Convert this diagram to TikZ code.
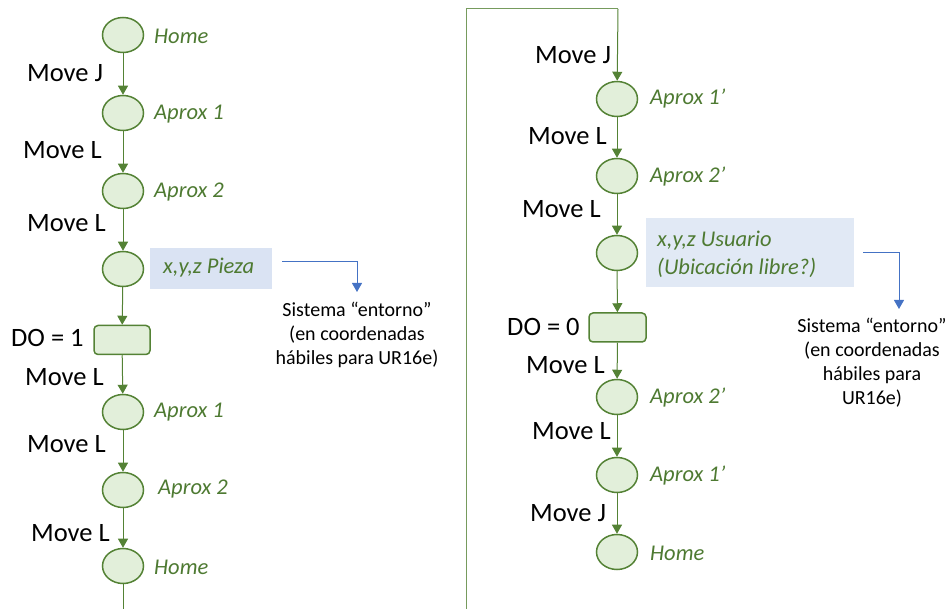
\documentclass[tikz,border=0pt]{standalone}
\usepackage{fontspec}
\setmainfont{Carlito}
\usetikzlibrary{arrows.meta,shapes.geometric}
\definecolor{grline}{HTML}{548235}
\definecolor{grfill}{HTML}{E2EFDA}
\definecolor{grtext}{HTML}{4E7A32}
\definecolor{bluebox}{HTML}{DAE3F3}
\definecolor{blueline}{HTML}{4472C4}
\tikzset{
  pt/.style={ellipse, draw=grline, fill=grfill, line width=1.5pt,
    minimum width=41pt, minimum height=35pt, inner sep=0pt},
  dobox/.style={rectangle, rounded corners=4pt, draw=grline, fill=grfill,
    line width=1.5pt, minimum width=56pt, minimum height=29pt, inner sep=0pt},
  flow/.style={draw=grline, line width=1pt, -{Triangle[length=9pt,width=10pt]}},
  loopline/.style={draw=grline!80, line width=1pt},
  cmd/.style={font=\fontsize{26.5}{30}\selectfont, text=black, inner sep=0pt, anchor=west},
  tag/.style={font=\fontsize{22.5}{26}\selectfont\itshape, text=grtext, inner sep=0pt, anchor=west},
  coordbox/.style={fill=bluebox, inner sep=0pt},
  note/.style={font=\fontsize{20}{24}\selectfont, text=black, align=center, inner sep=0pt},
  sysarrow/.style={draw=blueline, line width=1pt, -{Triangle[length=9pt,width=10pt]}}
}
\begin{document}
\begin{tikzpicture}[x=1pt,y=-1pt]
\useasboundingbox (0,0) rectangle (946,609);

% ---------- first sequence ----------
\node[pt] (h1) at (123,35) {};
\node[pt] (a1) at (123,113) {};
\node[pt] (a2) at (123,191) {};
\node[pt] (pz) at (123,269) {};
\node[dobox] (do1) at (122,340) {};
\node[pt] (b1) at (123,412) {};
\node[pt] (b2) at (123,490) {};
\node[pt] (h2) at (123,566) {};
\coordinate (lend) at (123,609);

\draw[flow] (h1) -- (a1);
\draw[flow] (a1) -- (a2);
\draw[flow] (a2) -- (pz);
\draw[flow] (pz) -- (do1);
\draw[flow] (do1) -- (b1);
\draw[flow] (b1) -- (b2);
\draw[flow] (b2) -- (h2);
\draw[grline, line width=1pt] (h2) -- (lend);

\node[tag] at (154,36) {Home};
\node[tag] at (154,114) {Aprox 1};
\node[tag] at (154,192) {Aprox 2};
\node[tag] at (154,412) {Aprox 1};
\node[tag] at (158,489) {Aprox 2};
\node[tag] at (154,567) {Home};

\node[cmd] at (27,73) {Move J};
\node[cmd] at (23,150) {Move L};
\node[cmd] at (27,223) {Move L};
\node[cmd] at (11,338) {DO = 1};
\node[cmd] at (25,377) {Move L};
\node[cmd] at (27,444) {Move L};
\node[cmd] at (31,533) {Move L};

\node[coordbox, minimum width=122pt, minimum height=41pt] (pzbox) at (211,268.5) {};
\node[tag] at (163,268) {x,y,z Pieza};

\coordinate (s1a) at (282,262);
\coordinate (s1b) at (357,262);
\coordinate (s1c) at (357,292);
\node[note] (sys1) at (357,335) {Sistema “entorno”\\(en coordenadas\\hábiles para UR16e)};
\draw[sysarrow] (s1a) -- (s1b) -- (s1c);

% ---------- second sequence ----------
\coordinate (rstart) at (466,609);
\coordinate (rc1) at (466,9);
\coordinate (rc2) at (618,9);

\node[pt] (c1) at (617,99) {};
\node[pt] (c2) at (617,176) {};
\node[pt] (us) at (617,253) {};
\node[dobox, minimum width=57pt] (do0) at (617.5,327.5) {};
\node[pt] (d2) at (617,397) {};
\node[pt] (d1) at (617,475) {};
\node[pt] (h3) at (617,552) {};

\draw[loopline] (rstart) -- (rc1) -- (rc2);
\draw[flow] (rc2) -- (c1);
\draw[flow] (c1) -- (c2);
\draw[flow] (c2) -- (us);
\draw[flow] (us) -- (do0);
\draw[flow] (do0) -- (d2);
\draw[flow] (d2) -- (d1);
\draw[flow] (d1) -- (h3);

\node[tag] at (650,99) {Aprox 1’};
\node[tag] at (650,177) {Aprox 2’};
\node[tag] at (650,398) {Aprox 2’};
\node[tag] at (650,476) {Aprox 1’};
\node[tag] at (650,553) {Home};

\node[cmd] at (535,55) {Move J};
\node[cmd] at (528,136) {Move L};
\node[cmd] at (522,209) {Move L};
\node[cmd] at (507,327) {DO = 0};
\node[cmd] at (526,365) {Move L};
\node[cmd] at (532,431) {Move L};
\node[cmd] at (530,513) {Move J};

\node[coordbox, fill=bluebox!80!white, minimum width=208pt, minimum height=69pt] (usbox) at (750,252.5) {};
\node[tag, align=left, font=\fontsize{22.5}{28}\selectfont\itshape] at (657,254) {x,y,z Usuario\\(Ubicación libre?)};

\coordinate (s2a) at (863,253);
\coordinate (s2b) at (899,253);
\coordinate (s2c) at (899,309);
\node[note] (sys2) at (872,363) {Sistema “entorno”\\(en coordenadas\\hábiles para\\UR16e)};
\draw[sysarrow] (s2a) -- (s2b) -- (s2c);
\end{tikzpicture}
\end{document}
